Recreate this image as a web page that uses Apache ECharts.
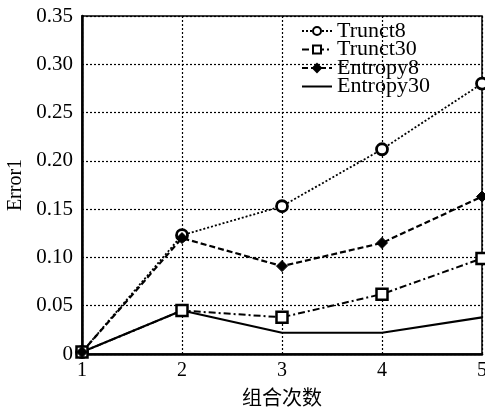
<!DOCTYPE html>
<html><head><meta charset="utf-8">
<script src="https://cdn.jsdelivr.net/npm/echarts@6/dist/echarts.min.js"></script>
<style>html,body{margin:0;padding:0;background:#fff}#c{width:485px;height:410px}</style>
</head><body><div id="c"></div>
<script>
var xValues = [1, 2, 3, 4, 5];
var trunct8 = [0.002, 0.123, 0.153, 0.212, 0.280];
var trunct30 = [0.002, 0.045, 0.038, 0.062, 0.099];
var entropy8 = [0.002, 0.120, 0.091, 0.115, 0.163];
var entropy30 = [0.002, 0.045, 0.022, 0.022, 0.038];
var seriesNames = ['Trunct8', 'Trunct30', 'Entropy8', 'Entropy30'];
var xName = '组合次数';
var yName = 'Error1';

function pairs(arr){ return xValues.map(function(x,i){ return [x, arr[i]]; }); }
var serif = '"Liberation Serif", "DejaVu Serif", serif';
var chart = echarts.init(document.getElementById('c'));
chart.setOption({
  animation: false,
  backgroundColor: '#fff',
  grid: { left: 82, right: 3, top: 16, bottom: 56, show: true, borderColor: '#000', borderWidth: 1.5,
          containLabel: false, outerBoundsMode: 'none' },
  legend: {
    orient: 'vertical', left: 296, top: 15, itemWidth: 30, itemHeight: 10, itemGap: -3.5,
    textStyle: { fontFamily: serif, fontSize: 22, color: '#000' },
    data: [seriesNames[0], seriesNames[1], seriesNames[2], { name: seriesNames[3], itemStyle: { opacity: 0 } }]
  },
  xAxis: {
    type: 'value', min: 1, max: 5, interval: 1,
    name: xName, nameLocation: 'middle', nameGap: 33,
    nameTextStyle: { fontFamily: '"Noto Sans CJK SC", sans-serif', fontSize: 20, color: '#000' },
    axisLine: { lineStyle: { color: '#000', width: 2.5 } },
    axisTick: { show: false },
    axisLabel: { fontFamily: serif, fontSize: 20, color: '#000', margin: 7 },
    splitLine: { show: true, lineStyle: { color: '#000', type: [2, 2], width: 1.2 } }
  },
  yAxis: {
    type: 'value', min: 0, max: 0.35, interval: 0.05,
    name: yName, nameLocation: 'middle', nameGap: 56,
    nameTextStyle: { fontFamily: serif, fontSize: 20, color: '#000' },
    axisLine: { show: true, lineStyle: { color: '#000', width: 2.5 } },
    axisTick: { show: false },
    axisLabel: { fontFamily: serif, fontSize: 21, color: '#000', margin: 9,
      formatter: function(v){ return v === 0 ? '0' : v.toFixed(2); } },
    splitLine: { show: true, lineStyle: { color: '#000', type: [2, 2], width: 1.2 } }
  },
  series: [
    { name: seriesNames[0], type: 'line', data: pairs(trunct8), symbol: 'circle', symbolSize: 11,
      itemStyle: { color: '#fff', borderColor: '#000', borderWidth: 2.8 },
      lineStyle: { color: '#000', width: 1.8, type: [2, 2] } },
    { name: seriesNames[1], type: 'line', data: pairs(trunct30), symbol: 'rect', symbolSize: 11,
      itemStyle: { color: '#fff', borderColor: '#000', borderWidth: 2.5 },
      lineStyle: { color: '#000', width: 2, type: [7, 3, 2, 3] } },
    { name: seriesNames[2], type: 'line', data: pairs(entropy8), symbol: 'diamond', symbolSize: 11,
      itemStyle: { color: '#000', borderColor: '#000', borderWidth: 1 },
      lineStyle: { color: '#000', width: 2.2, type: [6, 3] } },
    { name: seriesNames[3], type: 'line', data: pairs(entropy30), symbol: 'none',
      itemStyle: { color: '#000' },
      lineStyle: { color: '#000', width: 2.2, type: 'solid' } }
  ]
});
</script>
</body></html>
